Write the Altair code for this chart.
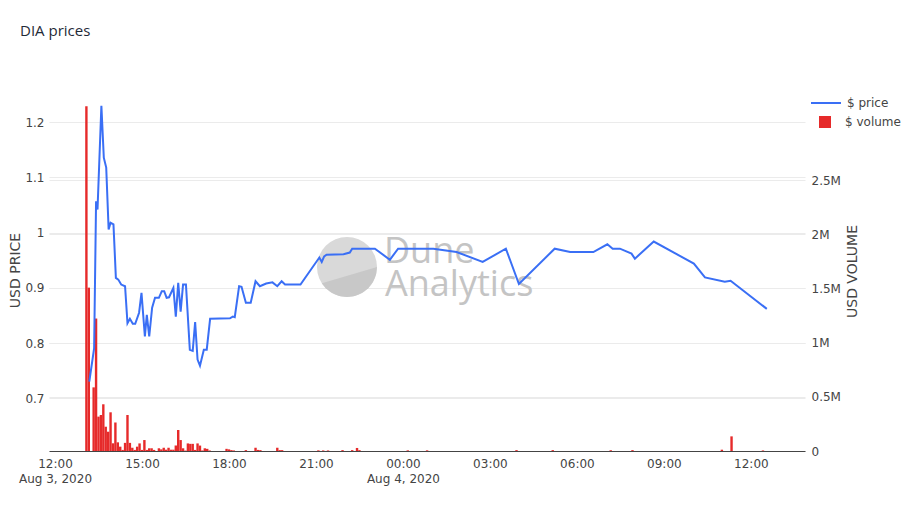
import math
import pandas as pd
import altair as alt

# ---------------- data ----------------
price_times = [
    "2020-08-03T13:11", "2020-08-03T13:21", "2020-08-03T13:25", "2020-08-03T13:28",
    "2020-08-03T13:36", "2020-08-03T13:41", "2020-08-03T13:46", "2020-08-03T13:51",
    "2020-08-03T13:55", "2020-08-03T14:01", "2020-08-03T14:06", "2020-08-03T14:11",
    "2020-08-03T14:17", "2020-08-03T14:25", "2020-08-03T14:30", "2020-08-03T14:35",
    "2020-08-03T14:41", "2020-08-03T14:46", "2020-08-03T14:54", "2020-08-03T14:59",
    "2020-08-03T15:06", "2020-08-03T15:10", "2020-08-03T15:15", "2020-08-03T15:21",
    "2020-08-03T15:27", "2020-08-03T15:35", "2020-08-03T15:41", "2020-08-03T15:46",
    "2020-08-03T15:51", "2020-08-03T15:56", "2020-08-03T16:05", "2020-08-03T16:10",
    "2020-08-03T16:15", "2020-08-03T16:20", "2020-08-03T16:25", "2020-08-03T16:31",
    "2020-08-03T16:39", "2020-08-03T16:45", "2020-08-03T16:50", "2020-08-03T16:55",
    "2020-08-03T17:00", "2020-08-03T17:08", "2020-08-03T17:14", "2020-08-03T17:21",
    "2020-08-03T18:02", "2020-08-03T18:08", "2020-08-03T18:12", "2020-08-03T18:21",
    "2020-08-03T18:26", "2020-08-03T18:35", "2020-08-03T18:45", "2020-08-03T18:55",
    "2020-08-03T19:04", "2020-08-03T19:17", "2020-08-03T19:30", "2020-08-03T19:40",
    "2020-08-03T19:49", "2020-08-03T19:56", "2020-08-03T20:28", "2020-08-03T21:07",
    "2020-08-03T21:12", "2020-08-03T21:17", "2020-08-03T21:22", "2020-08-03T21:57",
    "2020-08-03T22:10", "2020-08-03T22:15", "2020-08-03T23:02", "2020-08-03T23:33",
    "2020-08-03T23:50", "2020-08-04T00:35", "2020-08-04T01:03", "2020-08-04T01:51",
    "2020-08-04T02:45", "2020-08-04T03:33", "2020-08-04T04:00", "2020-08-04T05:14",
    "2020-08-04T05:46", "2020-08-04T06:34", "2020-08-04T07:03", "2020-08-04T07:14",
    "2020-08-04T07:29", "2020-08-04T07:53", "2020-08-04T08:00", "2020-08-04T08:39",
    "2020-08-04T10:02", "2020-08-04T10:25", "2020-08-04T11:06", "2020-08-04T11:18",
    "2020-08-04T12:33",
]
price_values = [
    0.730, 0.791, 1.057, 1.042,
    1.230, 1.136, 1.118, 1.006,
    1.018, 1.015, 0.918, 0.915,
    0.906, 0.903, 0.836, 0.844,
    0.835, 0.835, 0.855, 0.891,
    0.812, 0.851, 0.812, 0.864,
    0.882, 0.882, 0.894, 0.894,
    0.882, 0.883, 0.900, 0.848,
    0.909, 0.857, 0.906, 0.906,
    0.788, 0.786, 0.838, 0.770,
    0.759, 0.788, 0.788, 0.844,
    0.845, 0.848, 0.847, 0.903,
    0.902, 0.873, 0.873, 0.912,
    0.903, 0.908, 0.910, 0.903,
    0.912, 0.906, 0.906, 0.955,
    0.947, 0.957, 0.960, 0.961,
    0.964, 0.971, 0.971, 0.951,
    0.971, 0.971, 0.971, 0.965,
    0.947, 0.971, 0.907, 0.971,
    0.965, 0.965, 0.979, 0.971,
    0.971, 0.962, 0.953, 0.984,
    0.944, 0.919, 0.911, 0.913,
    0.862,
]

volume_times = [
    "2020-08-03T13:05", "2020-08-03T13:10", "2020-08-03T13:20", "2020-08-03T13:25",
    "2020-08-03T13:30", "2020-08-03T13:35", "2020-08-03T13:40", "2020-08-03T13:45",
    "2020-08-03T13:50", "2020-08-03T13:55", "2020-08-03T14:00", "2020-08-03T14:05",
    "2020-08-03T14:10", "2020-08-03T14:15", "2020-08-03T14:20", "2020-08-03T14:25",
    "2020-08-03T14:30", "2020-08-03T14:35", "2020-08-03T14:40", "2020-08-03T14:45",
    "2020-08-03T14:50", "2020-08-03T14:55", "2020-08-03T15:00", "2020-08-03T15:05",
    "2020-08-03T15:10", "2020-08-03T15:15", "2020-08-03T15:20", "2020-08-03T15:25",
    "2020-08-03T15:35", "2020-08-03T15:40", "2020-08-03T15:45", "2020-08-03T15:50",
    "2020-08-03T15:55", "2020-08-03T16:00", "2020-08-03T16:05", "2020-08-03T16:10",
    "2020-08-03T16:15", "2020-08-03T16:20", "2020-08-03T16:25", "2020-08-03T16:30",
    "2020-08-03T16:35", "2020-08-03T16:40", "2020-08-03T16:45", "2020-08-03T16:50",
    "2020-08-03T16:55", "2020-08-03T17:00", "2020-08-03T17:05", "2020-08-03T17:10",
    "2020-08-03T17:15", "2020-08-03T17:20", "2020-08-03T17:55", "2020-08-03T18:00",
    "2020-08-03T18:05", "2020-08-03T18:10", "2020-08-03T18:35", "2020-08-03T18:55",
    "2020-08-03T19:00", "2020-08-03T19:05", "2020-08-03T19:40", "2020-08-03T19:45",
    "2020-08-03T19:50", "2020-08-03T21:05", "2020-08-03T21:15", "2020-08-03T21:25",
    "2020-08-03T21:55", "2020-08-03T22:15", "2020-08-03T22:25", "2020-08-03T22:30",
    "2020-08-04T00:10", "2020-08-04T00:50", "2020-08-04T03:55", "2020-08-04T05:10",
    "2020-08-04T07:10", "2020-08-04T07:55", "2020-08-04T11:00", "2020-08-04T11:20",
    "2020-08-04T12:25",
]
volume_values = [
    3180000, 1507000, 587000, 1222000,
    317000, 332000, 431000, 224000,
    178000, 357000, 71000, 263000,
    80000, 40000, 10000, 75000,
    332000, 75000, 30000, 10000,
    40000, 70000, 10000, 101000,
    10000, 25000, 25000, 10000,
    25000, 15000, 30000, 12000,
    30000, 12000, 12000, 50000,
    194000, 101000, 25000, 4000,
    70000, 66000, 66000, 10000,
    70000, 50000, 5000, 25000,
    20000, 5000, 20000, 15000,
    8000, 5000, 8000, 30000,
    10000, 8000, 30000, 8000,
    8000, 6000, 5000, 5000,
    8000, 8000, 28000, 8000,
    6000, 6000, 8000, 8000,
    7000, 8000, 12000, 135000,
    5000,
]

price_ticks = [0.7, 0.8, 0.9, 1.0, 1.1, 1.2]
volume_ticks = [0, 500000, 1000000, 1500000, 2000000, 2500000]
x_tick_hours = [(3, 12), (3, 15), (3, 18), (3, 21), (4, 0), (4, 3), (4, 6), (4, 9), (4, 12)]

price_df = pd.DataFrame({"time": price_times, "price": price_values, "series": "$ price"})
vol_df = pd.DataFrame({"time": volume_times, "volume": volume_values, "series": "$ volume"})

# ---------------- style ----------------
BLUE = "#3a6ff5"
RED = "#e62a2a"
TXT = "#444444"
GRID = "#ebebeb"
FONT = "DejaVu Sans"
W, H = 756, 345

x_scale = alt.Scale(domain=[
    alt.DateTime(year=2020, month=8, date=3, hours=11, minutes=47, seconds=36),
    alt.DateTime(year=2020, month=8, date=4, hours=13, minutes=52),
], nice=False, padding=0)
x_axis = alt.Axis(
    values=[alt.DateTime(year=2020, month=8, date=d, hours=h) for d, h in x_tick_hours],
    labelExpr="(hours(datum.value) == 0 || datum.index == 0) ? [timeFormat(datum.value, '%H:%M'), timeFormat(datum.value, '%b %-d, %Y')] : timeFormat(datum.value, '%H:%M')",
    title=None, grid=False, ticks=False, tickSize=0, domain=True, domainColor=TXT,
    domainWidth=1, labelFont=FONT, labelFontSize=12, labelColor=TXT, labelPadding=7,
    labelLineHeight=15, labelOverlap=False, labelBaseline="top", labelFlush=False,
)
x_enc = alt.X("time:T", scale=x_scale, axis=x_axis)

line = alt.Chart(price_df).mark_line(strokeWidth=2).encode(
    x=x_enc,
    y=alt.Y("price:Q",
            scale=alt.Scale(domain=[0.6045, 1.2295], nice=False, zero=False),
            axis=alt.Axis(orient="left", values=price_ticks, format="~g", title="USD PRICE",
                          grid=True, gridColor=GRID, domain=False, ticks=False, tickSize=0,
                          labelFont=FONT, labelFontSize=12, labelColor=TXT, labelPadding=5,
                          titleFont=FONT, titleFontSize=14, titleFontWeight="normal",
                          titleColor=TXT, titleAngle=270, titleX=-34, titleY=164,
                          titleAlign="center", titleBaseline="middle")),
    stroke=alt.Stroke("series:N", scale=alt.Scale(domain=["$ price"], range=[BLUE]),
                      legend=alt.Legend(orient="none", legendX=761, legendY=-19, title=None,
                                        symbolType="stroke", symbolSize=900,
                                        symbolStrokeWidth=2, labelFont=FONT, labelFontSize=12,
                                        labelColor=TXT, labelOffset=5, padding=0)),
)

bars = alt.Chart(vol_df).mark_bar(size=2.4).encode(
    x=x_enc,
    y=alt.Y("volume:Q",
            scale=alt.Scale(domain=[0, 3182700], nice=False),
            axis=alt.Axis(orient="right", values=volume_ticks,
                          labelExpr="datum.value == 0 ? '0' : format(datum.value / 1000000, '~g') + 'M'",
                          title="USD VOLUME", grid=True, gridColor=GRID, domain=False,
                          ticks=False, tickSize=0, labelFont=FONT, labelFontSize=12,
                          labelColor=TXT, labelPadding=6, titleFont=FONT, titleFontSize=14,
                          titleFontWeight="normal", titleColor=TXT, titleAngle=270,
                          titleX=47, titleY=165, titleAlign="center", titleBaseline="middle")),
    fill=alt.Fill("series:N", scale=alt.Scale(domain=["$ volume"], range=[RED]),
                  legend=alt.Legend(orient="none", legendX=770, legendY=10, title=None,
                                    symbolType="square", symbolSize=144, symbolStrokeWidth=0,
                                    labelFont=FONT, labelFontSize=12, labelColor=TXT,
                                    labelOffset=14, padding=0)),
)

# ---------------- watermark & title ----------------
one = pd.DataFrame({"k": [0]})
angles = [0, 15, 30, 45, 60, 75, 90, 105, 120, 135, 147]
pts = [(math.cos(math.radians(a)), math.sin(math.radians(a))) for a in angles]
seg_path = "M " + " L ".join(f"{x:.3f} {y:.3f}" for x, y in pts) + " Z"

wm_circle = alt.Chart(one).mark_point(shape="circle", filled=True, size=3600,
                                       color="#d9d9d9", opacity=1).encode(
    x=alt.value(298), y=alt.value(161))
wm_seg = alt.Chart(one).mark_point(shape=seg_path, filled=True, size=3600,
                                    color="#c8c8c8", opacity=1).encode(
    x=alt.value(298), y=alt.value(161))
wm_dune = alt.Chart(one).mark_text(text="Dune", align="left", baseline="alphabetic",
                                   font="Open Sans", fontSize=36, color="#c4c4c4").encode(
    x=alt.value(335), y=alt.value(157))
wm_an = alt.Chart(one).mark_text(text="Analytics", align="left", baseline="alphabetic",
                                 font="Open Sans", fontSize=36, color="#c4c4c4").encode(
    x=alt.value(336), y=alt.value(190))
title = alt.Chart(one).mark_text(text="DIA prices", align="left", baseline="middle",
                                 font="Open Sans", fontSize=15, color="#1f2a37").encode(
    x=alt.value(-29), y=alt.value(-75))

chart = alt.layer(wm_circle, wm_seg, wm_dune, wm_an, bars, line, title).resolve_scale(
    y="independent"
).properties(
    width=W, height=H,
    autosize=alt.AutoSizeParams(type="none"),
    padding={"left": 41, "top": 98, "right": 103, "bottom": 50},
    background="white",
).configure_view(stroke=None)

chart.save("out.html", embed_options={"renderer": "svg", "actions": False})
